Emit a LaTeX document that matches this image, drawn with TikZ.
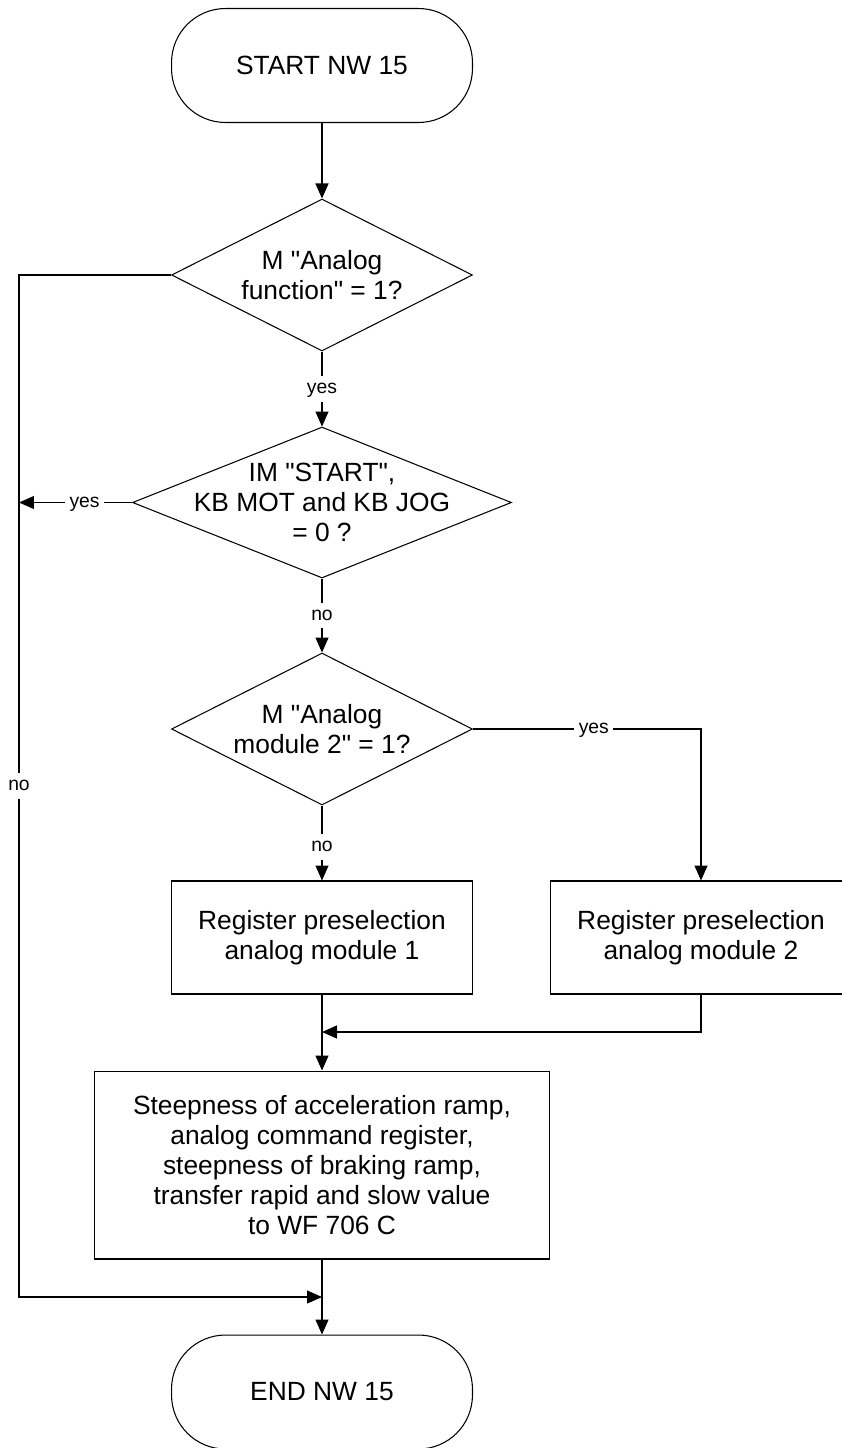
\documentclass[tikz,border=0pt]{standalone}
\usepackage{fontspec}
\setmainfont{Liberation Sans}
\usetikzlibrary{positioning, arrows.meta, shapes.geometric}

\begin{document}
\begin{tikzpicture}[x=0.02cm, y=-0.02cm, >={Triangle[length=0.3cm, width=0.26cm]}, line width=0.6pt,
	font=\fontsize{15}{17}\selectfont,
	terminal/.style={draw, rectangle, rounded corners=1.08cm, minimum width=6.02cm, minimum height=2.28cm},
	decision/.style={draw, diamond, inner sep=0pt, minimum width=6.02cm, minimum height=3.04cm},
	process/.style={draw, rectangle, align=center, minimum width=6.02cm, minimum height=2.26cm},
	dtext/.style={align=center},
	lbl/.style={fill=white, inner xsep=2.5pt, inner ysep=1.5pt, text height=1.6ex, text depth=0.6ex, font=\fontsize{11}{13}\selectfont}]
	
	% Marco de la imagen
	\clip (0,0) rectangle (842,1448);
	
	% --- 1. INICIO Y DECISIONES ---
	\node[terminal] (start) at (322,65.5) {START NW 15};
	
	\node[decision] (d1) at (322,275) {};
	\node[dtext] (d1t) at (d1) {M \textquotedbl Analog\\function\textquotedbl{} = 1?};
	
	\node[decision, minimum width=7.58cm, minimum height=3.02cm] (d2) at (322,502.5) {};
	\node[dtext] (d2t) at (d2) {IM \textquotedbl START\textquotedbl,\\KB MOT and KB JOG\\= 0 ?};
	
	\node[decision] (d3) at (322,729) {};
	\node[dtext] (d3t) at (d3) {M \textquotedbl Analog\\module 2\textquotedbl{} = 1?};
	
	% --- 2. BLOQUES DE PROCESO ---
	\node[process] (box1) at (322,937.5) {Register preselection\\analog module 1};
	\node[process] (box2) at (701,937.5) {Register preselection\\analog module 2};
	\node[process, minimum width=9.1cm, minimum height=3.76cm] (box3) at (322,1165)
		{Steepness of acceleration ramp,\\analog command register,\\steepness of braking ramp,\\transfer rapid and slow value\\to WF 706 C};
	
	\node[terminal] (fin) at (322,1392) {END NW 15};
	
	% Puntos de union
	\coordinate (izq) at (19,0);
	\coordinate (j1) at (322,1032);
	\coordinate (j2) at (322,1297);
	
	% --- 3. CONEXIONES ---
	\draw[->] (start.south) -- (d1.north);
	\draw[->] (d1.south) -- node[lbl] {yes} (d2.north);
	\draw[->] (d2.south) -- node[lbl] {no} (d3.north);
	\draw[->] (d3.south) -- node[lbl, pos=0.55] {no} (box1.north);
	\draw[->] (d3.east) -- node[lbl, pos=0.53] {yes} (d3.east -| box2.north) -- (box2.north);
	\draw[->] (box1.south) -- (box3.north);
	\draw[->] (box2.south) |- (j1);
	\draw[->] (box3.south) -- (fin.north);
	
	% Rama izquierda
	\draw[->] (d1.west) -- (d1.west -| izq) -- node[lbl] {no} (j2 -| izq) -- (j2);
	\draw[->] (d2.west) -- node[lbl, pos=0.42] {yes} (d2.west -| izq);
	
\end{tikzpicture}
\end{document}
